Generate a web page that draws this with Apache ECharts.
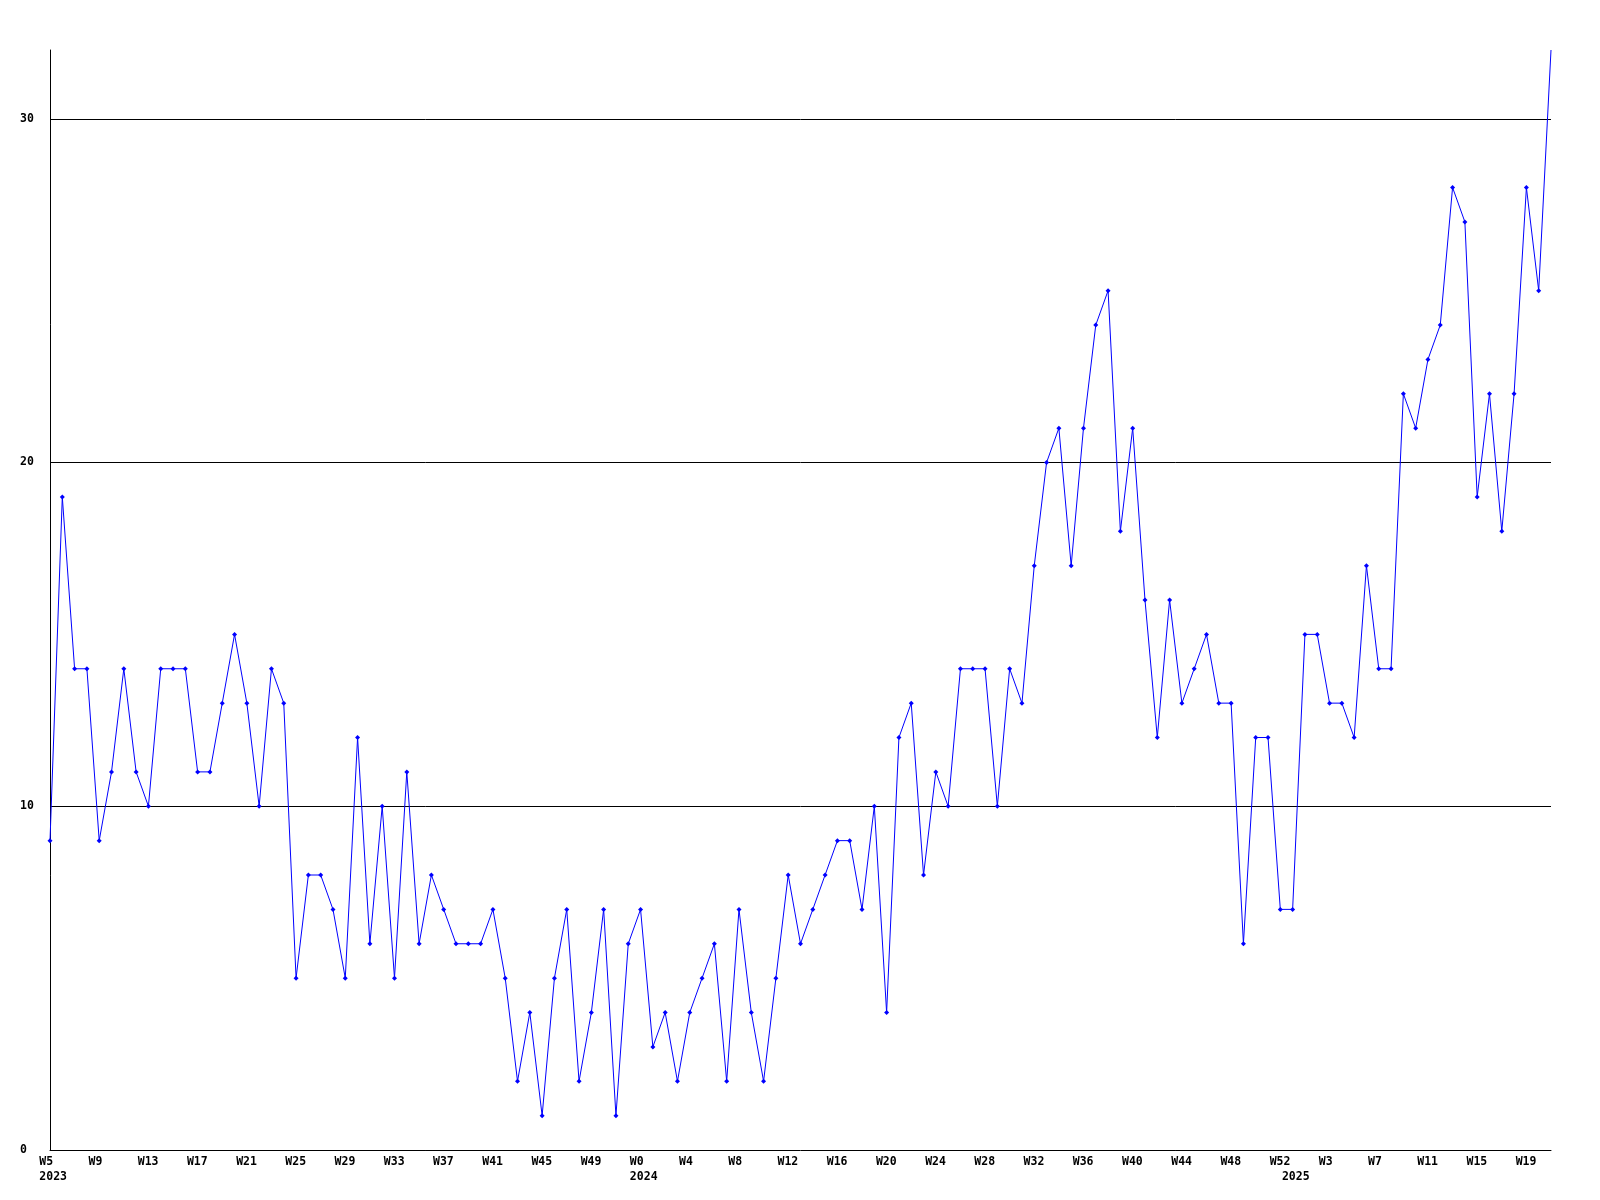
<!DOCTYPE html>
<html>
<head>
<meta charset="utf-8">
<script src="https://cdn.jsdelivr.net/npm/echarts@6/dist/echarts.min.js"></script>
<style>
html,body{margin:0;padding:0;background:#fff;}
#chart{width:1600px;height:1200px;}
</style>
</head>
<body>
<div id="chart"></div>
<script>
// Year segments of the weekly x axis
const years = ["2023", "2024", "2025"];
const firstWeek = [5, 0, 0];
const lastWeek = [52, 52, 21];

// Weekly values
const values = [
  9, 19, 14, 14, 9, 11, 14, 11, 10, 14,
  14, 14, 11, 11, 13, 15, 13, 10, 14, 13,
  5, 8, 8, 7, 5, 12, 6, 10, 5, 11,
  6, 8, 7, 6, 6, 6, 7, 5, 2, 4,
  1, 5, 7, 2, 4, 7, 1, 6, 7, 3,
  4, 2, 4, 5, 6, 2, 7, 4, 2, 5,
  8, 6, 7, 8, 9, 9, 7, 10, 4, 12,
  13, 8, 11, 10, 14, 14, 14, 10, 14, 13,
  17, 20, 21, 17, 21, 24, 25, 18, 21, 16,
  12, 16, 13, 14, 15, 13, 13, 6, 12, 12,
  7, 7, 15, 15, 13, 13, 12, 17, 14, 14,
  22, 21, 23, 24, 28, 27, 19, 22, 18, 22,
  28, 25, 32
];

// Y axis
const yMin = 0;
const yMax = 32;
const yInterval = 10;

// Build category labels
const weekLabels = [];
const yearLabels = [];
years.forEach(function (y, i) {
  for (let w = firstWeek[i]; w <= lastWeek[i]; w++) {
    weekLabels.push("W" + w);
    yearLabels.push(w === firstWeek[i] ? y : "");
  }
});

const font = {
  fontFamily: "DejaVu Sans Mono",
  fontWeight: "bold",
  fontSize: 11.5,
  color: "#000"
};

const chart = echarts.init(document.getElementById("chart"), null, { renderer: "canvas" });
chart.setOption({
  animation: false,
  backgroundColor: "#ffffff",
  grid: [
    { left: 50, right: 49, top: 50, bottom: 50 },
    { left: 39.3, right: 59.7, top: 50, bottom: 50 }
  ],
  xAxis: [
    {
      gridIndex: 0,
      type: "category",
      data: weekLabels,
      boundaryGap: false,
      axisLine: { show: true, lineStyle: { color: "#000", width: 1 } },
      axisTick: { show: false },
      axisLabel: { show: false },
      splitLine: { show: false }
    },
    {
      gridIndex: 1,
      type: "category",
      data: weekLabels,
      boundaryGap: false,
      axisLine: { show: false },
      axisTick: { show: false },
      splitLine: { show: false },
      axisLabel: Object.assign({ interval: 3, align: "left", margin: 6 }, font)
    },
    {
      gridIndex: 1,
      type: "category",
      data: yearLabels,
      position: "bottom",
      offset: 15,
      boundaryGap: false,
      axisLine: { show: false },
      axisTick: { show: false },
      splitLine: { show: false },
      axisLabel: Object.assign({ interval: 0, align: "left", margin: 6 }, font)
    }
  ],
  yAxis: [
    {
      gridIndex: 0,
      type: "value",
      min: yMin,
      max: yMax,
      interval: yInterval,
      axisLine: { show: true, lineStyle: { color: "#000", width: 1 } },
      axisTick: { show: false },
      splitLine: {
        show: true,
        showMinLine: false,
        showMaxLine: false,
        lineStyle: { color: "#000", width: 1 }
      },
      axisLabel: Object.assign({ showMaxLabel: false, align: "left", margin: 30 }, font)
    },
    {
      gridIndex: 1,
      type: "value",
      min: yMin,
      max: yMax,
      show: false
    }
  ],
  series: [
    {
      type: "line",
      xAxisIndex: 0,
      yAxisIndex: 0,
      data: values,
      showAllSymbol: true,
      // markers sitting on the clipped top edge are not drawn in the reference
      symbol: function (v) { return v >= yMax ? "none" : "diamond"; },
      symbolSize: 5,
      clip: true,
      color: "#0000ff",
      lineStyle: { color: "#0000ff", width: 1 },
      itemStyle: { color: "#0000ff" }
    }
  ]
});
</script>
</body>
</html>
